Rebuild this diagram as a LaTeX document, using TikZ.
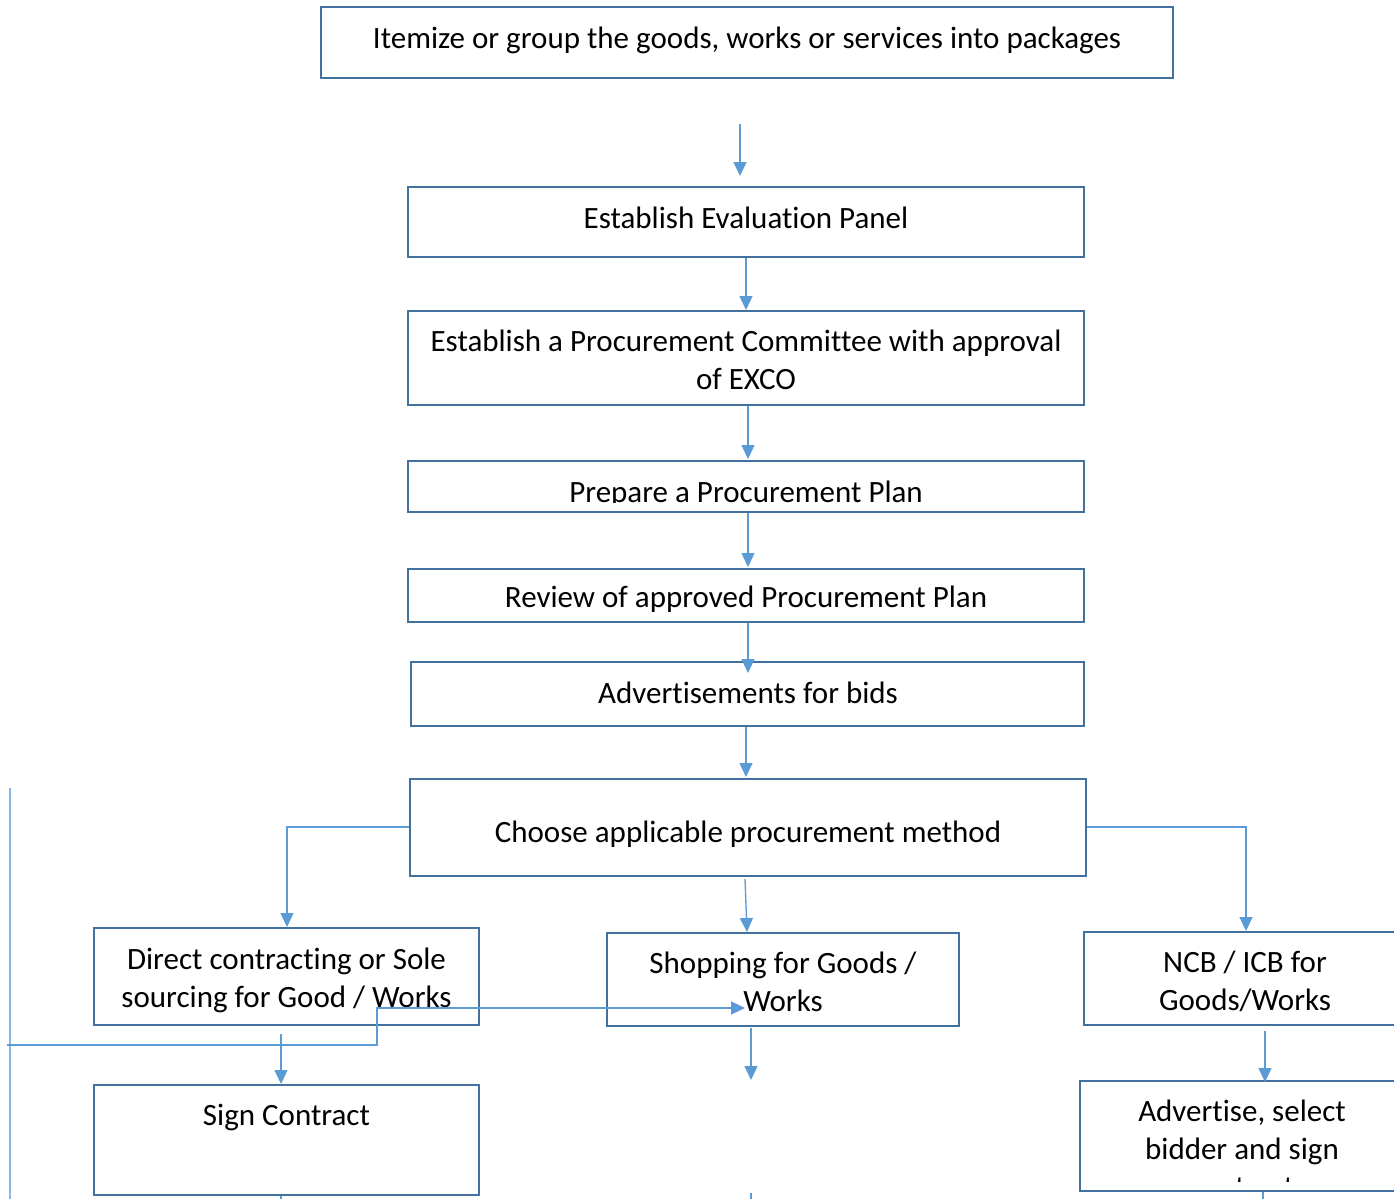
\documentclass[tikz,border=0pt]{standalone}
\usepackage{fontspec}
\setmainfont{Carlito}[Ligatures=NoCommon]
\usetikzlibrary{arrows.meta}
\definecolor{boxline}{HTML}{41719C}
\definecolor{arrline}{HTML}{5B9BD5}
\definecolor{faintline}{HTML}{8DB8E6}
\tikzset{
  procbox/.style={draw=boxline, line width=2.4pt, fill=none, rectangle, inner sep=0pt},
  boxtext/.style={inner sep=0pt, align=center, font=\fontsize{31}{38}\selectfont, text=black},
  arr/.style={draw=arrline, line width=1.3pt, -{Triangle[length=14pt,width=13pt]}},
  plain/.style={draw=arrline, line width=1.3pt},
  faint/.style={draw=faintline, line width=2pt}
}
\begin{document}
\begin{tikzpicture}[x=1pt,y=-1pt]
\useasboundingbox (0,0) rectangle (1394,1199);
\fill[white] (0,0) rectangle (1394,1199);
\clip (0,0) rectangle (1394,1199);

% boxes
\node[procbox, minimum width=852pt, minimum height=71pt] (b1) at (747,42.5) {};
\node[procbox, minimum width=676pt, minimum height=70pt] (b2) at (746,222) {};
\node[procbox, minimum width=676pt, minimum height=94pt] (b3) at (746,358) {};
\node[procbox, minimum width=676pt, minimum height=51pt] (b4) at (746,486.5) {};
\node[procbox, minimum width=676pt, minimum height=53pt] (b5) at (746,595.5) {};
\node[procbox, minimum width=673pt, minimum height=64pt] (b6) at (747.5,694) {};
\node[procbox, minimum width=676pt, minimum height=97pt] (b7) at (748,827.5) {};
\node[procbox, minimum width=385pt, minimum height=97pt] (b8) at (286.5,976.5) {};
\node[procbox, minimum width=352pt, minimum height=93pt] (b9) at (783,979.5) {};
\node[procbox, minimum width=322pt, minimum height=93pt] (b10) at (1245,978.5) {};
\node[procbox, minimum width=385pt, minimum height=110pt] (b11) at (286.5,1140) {};
\node[procbox, minimum width=324pt, minimum height=110pt] (b12) at (1242,1136) {};

% texts
\node[boxtext] (t1) at (747,41) {Itemize or group the goods, works or services into packages\strut};
\node[boxtext] (t2) at (746,221) {Establish Evaluation Panel\strut};
\node[boxtext] (t3) at (746,363) {Establish a Procurement Committee with approval\strut\\ of EXCO\strut};
\begin{scope}
  \clip (410,463) rectangle (1082,502);
  \node[boxtext] (t4) at (746,495) {Prepare a Procurement Plan\strut};
\end{scope}
\node[boxtext] (t5) at (746,600) {Review of approved Procurement Plan\strut};
\node[boxtext] (t6) at (748,696) {Advertisements for bids\strut};
\node[boxtext] (t7) at (748,835) {Choose applicable procurement method\strut};
\node[boxtext] (t8) at (286.5,981) {Direct contracting or Sole\strut\\ sourcing for Good / Works\strut};
\node[boxtext] (t9) at (783,985) {Shopping for Goods /\strut\\ Works\strut};
\node[boxtext] (t10) at (1245,984) {NCB / ICB for\strut\\ Goods/Works\strut};
\node[boxtext] (t11) at (286.5,1118) {Sign Contract\strut};
\begin{scope}
  \clip (1082,1083) rectangle (1394,1181);
  \node[boxtext] (t12) at (1242,1152) {Advertise, select\strut\\ bidder and sign\strut\\ contract\strut};
\end{scope}

% free connector ends
\coordinate (a1s) at (740,124);  \coordinate (a1e) at (740,176);
\coordinate (a2s) at (746,258);  \coordinate (a2e) at (746,310);
\coordinate (a3s) at (748,406);  \coordinate (a3e) at (748,459);
\coordinate (a4s) at (748,513);  \coordinate (a4e) at (748,567);
\coordinate (a5s) at (748,623);  \coordinate (a5e) at (748,673);
\coordinate (a6s) at (746,727);  \coordinate (a6e) at (746,777);
\coordinate (a8s) at (745,879);  \coordinate (a8e) at (747,932);
\coordinate (a10s) at (281,1034); \coordinate (a10e) at (281,1084);
\coordinate (a11s) at (751,1028); \coordinate (a11e) at (751,1080);
\coordinate (a12s) at (1265,1031); \coordinate (a12e) at (1265,1082);
\coordinate (k1s) at (281,1196);  \coordinate (k1e) at (281,1199);
\coordinate (k2s) at (751,1193);  \coordinate (k2e) at (751,1199);
\coordinate (k3s) at (1263,1192); \coordinate (k3e) at (1263,1199);
\coordinate (vls) at (10,788);    \coordinate (vle) at (10,1199);
\coordinate (pls) at (7,1045);    \coordinate (ple) at (745,1008);

% connectors
\draw[arr] (a1s) -- (a1e);
\draw[arr] (a2s) -- (a2e);
\draw[arr] (a3s) -- (a3e);
\draw[arr] (a4s) -- (a4e);
\draw[arr] (a5s) -- (a5e);
\draw[arr] (a6s) -- (a6e);
\draw[arr] (b7.west |- 0,827) -| (287,927);
\draw[arr] (a8s) -- (a8e);
\draw[arr] (b7.east |- 0,827) -| (1246,931);
\draw[arr] (a10s) -- (a10e);
\draw[arr] (a11s) -- (a11e);
\draw[arr] (a12s) -- (a12e);
\draw[plain] (k1s) -- (k1e);
\draw[plain] (k2s) -- (k2e);
\draw[plain] (k3s) -- (k3e);
\draw[faint] (vls) -- (vle);
\draw[arr, line width=1.2pt] (pls) -- (377,1045) -- (377,1008) -- (ple);
\end{tikzpicture}
\end{document}
